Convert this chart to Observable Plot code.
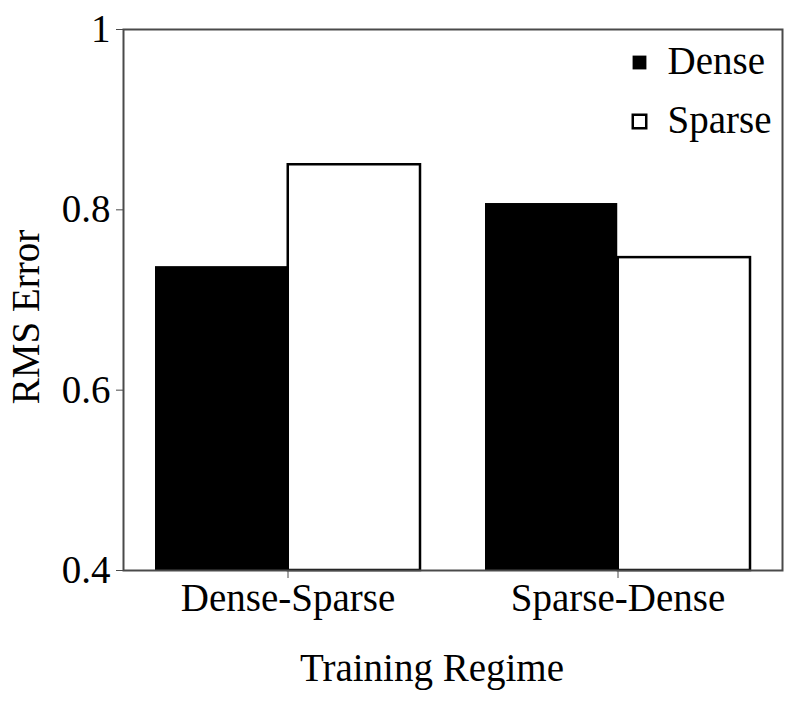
<!DOCTYPE html>
<html>
<head>
<meta charset="utf-8">
<script src="https://cdn.jsdelivr.net/npm/d3@7"></script>
<script src="https://cdn.jsdelivr.net/npm/@observablehq/plot@0.6"></script>
<style>
  html, body { margin: 0; padding: 0; background: #fff; }
  #chart svg { display: block; }
</style>
</head>
<body>
<div id="chart"></div>
<script>
const regimes = ["Dense-Sparse", "Sparse-Dense"];
const series = ["Dense", "Sparse"];
const denseValues = [0.737, 0.807];
const sparseValues = [0.850, 0.747];
const yTicks = [0.4, 0.6, 0.8, 1];

const data = [];
regimes.forEach((r, i) => {
  data.push({regime: r, series: "Dense", value: denseValues[i]});
  data.push({regime: r, series: "Sparse", value: sparseValues[i]});
});

const W = 800, H = 703;
const mL = 123, mR = 18, mT = 29, mB = 133;
const padIn = 0.197, padOut = 0.095;
const step = (W - mL - mR) / (regimes.length - padIn + 2 * padOut);
const bw = step * (1 - padIn);
const half = bw / 2;
const font = "'Liberation Serif', 'Times New Roman', serif";
const fs = 39;

const chart = Plot.plot({
  width: W,
  height: H,
  marginLeft: mL,
  marginRight: mR,
  marginTop: mT,
  marginBottom: mB,
  style: `font-family: ${font}; font-size: ${fs}px; color: #000; background: #fff;`,
  x: {domain: regimes, paddingInner: padIn, paddingOuter: padOut, label: null},
  y: {domain: [0.4, 1], label: null},
  marks: [
    Plot.barY(data.filter(d => d.series === "Dense"), {
      x: "regime", y1: 0.4, y2: "value", fill: "#000", insetRight: half
    }),
    Plot.barY(data.filter(d => d.series === "Sparse"), {
      x: "regime", y1: 0.4, y2: "value", fill: "#fff", stroke: "#000",
      strokeWidth: 2.5, insetLeft: half, insetRight: 0
    }),
    Plot.frame({stroke: "#4a4a4a", strokeWidth: 2}),
    Plot.axisY({ticks: yTicks, tickFormat: d => String(d), tickSize: 7, tickPadding: 6,
      stroke: "#4a4a4a", fontSize: fs, fontFamily: font, label: null}),
    Plot.axisX({tickSize: 8, tickPadding: 5, stroke: "#4a4a4a", fontSize: fs, fontFamily: font, label: null}),
    Plot.text(["RMS Error"], {frameAnchor: "left", rotate: -90, dx: -97, dy: 17,
      textAnchor: "middle", lineAnchor: "middle", fontSize: fs, fontFamily: font, fill: "#000"}),
    Plot.text(["Training Regime"], {frameAnchor: "bottom", dx: -21, dy: 98, lineAnchor: "middle",
      textAnchor: "middle", fontSize: fs, fontFamily: font, fill: "#000"}),
    // legend
    Plot.dot([series[0]], {frameAnchor: "top-right", dx: -143, dy: 33, symbol: "square",
      r: 7.8, fill: "#000", stroke: "none"}),
    Plot.text([series[0]], {text: d => d, frameAnchor: "top-right", dx: -115, dy: 32,
      textAnchor: "start", lineAnchor: "middle", fontSize: fs, fontFamily: font, fill: "#000"}),
    Plot.dot([series[1]], {frameAnchor: "top-right", dx: -143, dy: 92, symbol: "square",
      r: 7.6, fill: "#fff", stroke: "#000", strokeWidth: 2.5}),
    Plot.text([series[1]], {text: d => d, frameAnchor: "top-right", dx: -115, dy: 91,
      textAnchor: "start", lineAnchor: "middle", fontSize: fs, fontFamily: font, fill: "#000"})
  ]
});
d3.select(chart).selectAll("text").style("font-family", font);
document.getElementById("chart").appendChild(chart);
</script>
</body>
</html>
